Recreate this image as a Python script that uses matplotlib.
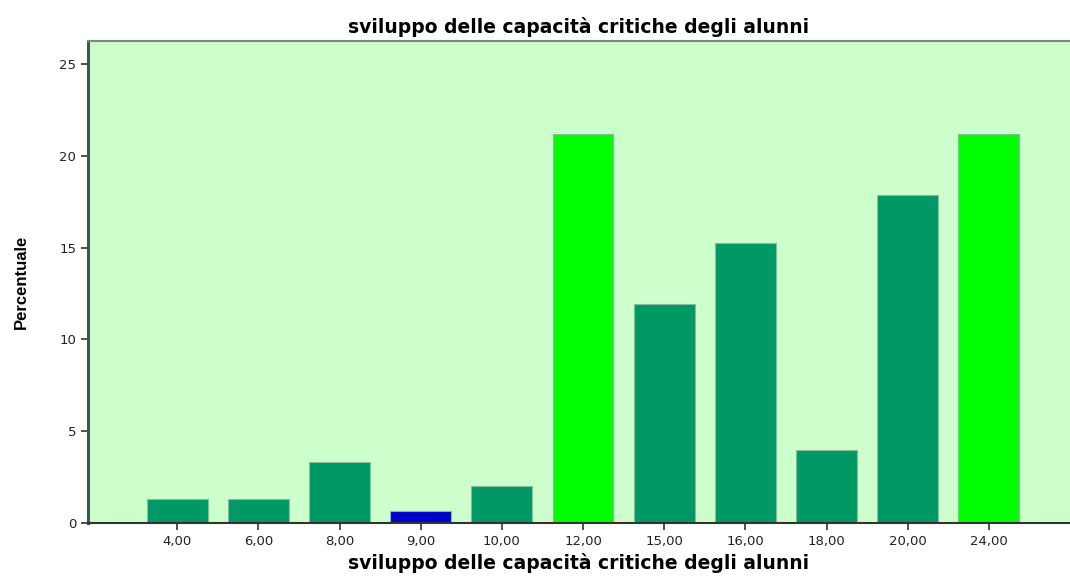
import matplotlib.pyplot as plt

categories = ['4,00', '6,00', '8,00', '9,00', '10,00', '12,00',
              '15,00', '16,00', '18,00', '20,00', '24,00']
percent = [1.32, 1.32, 3.31, 0.66, 1.99, 21.19, 11.92, 15.23, 3.97, 17.88, 21.19]
colors = ['#009966', '#009966', '#009966', '#0000CC', '#009966', '#00FF00',
          '#009966', '#009966', '#009966', '#009966', '#00FF00']

plt.rcParams['font.family'] = ['DejaVu Sans']

fig = plt.figure(figsize=(10.7, 5.76), dpi=100)
ax = fig.add_axes([0.0822, 0.092, 0.9178, 0.837])
ax.set_facecolor('#CCFFCC')

x = list(range(len(categories)))
ax.bar(x, percent, width=0.75, color=colors, edgecolor='#88BB99', linewidth=0.8)

ax.set_xlim(-1.1, 11.0)
ax.set_ylim(0, 26.25)
ax.set_xticks(x)
ax.set_xticklabels(categories)
ax.set_yticks([0, 5, 10, 15, 20, 25])
ax.tick_params(axis='both', direction='out', length=5, width=1.2,
               color='#333333', labelsize=9.5, labelcolor='#222222')

ax.spines['left'].set_color('#3F5A4A')
ax.spines['left'].set_linewidth(2.2)
ax.spines['bottom'].set_color('#333333')
ax.spines['bottom'].set_linewidth(1.5)
ax.spines['top'].set_color('#7A8A7A')
ax.spines['top'].set_linewidth(1.5)
ax.spines['right'].set_visible(False)

ax.set_title('sviluppo delle capacità critiche degli alunni', fontsize=13.5,
             fontweight='bold', pad=6)
ax.set_xlabel('sviluppo delle capacità critiche degli alunni', fontsize=13.5,
              fontweight='bold', labelpad=4)
ax.set_ylabel('Percentuale', fontsize=12, fontweight='bold',
              family=['Liberation Sans Narrow', 'Liberation Sans'], labelpad=22)

fig.savefig('out.png', dpi=100)
